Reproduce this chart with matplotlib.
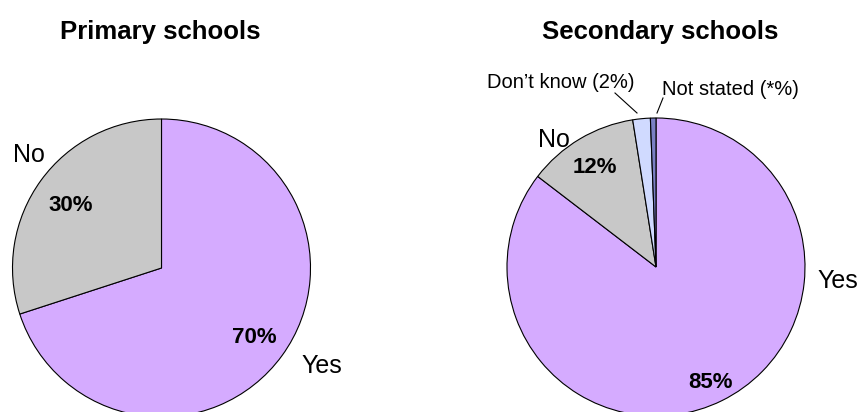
import matplotlib
matplotlib.use("Agg")
import matplotlib.pyplot as plt

plt.rcParams["font.family"] = ["Liberation Sans", "DejaVu Sans"]

# =========================================================
# DATA
# =========================================================
primary_labels = ["Yes", "No"]
primary_values = [70, 30]

secondary_labels = ["Yes", "No", "Don\u2019t know", "Not stated"]
secondary_values = [85.4, 12.1, 1.9, 0.6]
secondary_text = ["85%", "12%", "2%", "*%"]

COLORS = ["#d5abff", "#c8c8c8", "#d0daff", "#7a7fc4"]

W, H = 863, 412


def py(y):
    # pixel row -> data y
    return H - y


fig = plt.figure(figsize=(W / 100, H / 100), dpi=100)
ax = fig.add_axes([0, 0, 1, 1])

wedge_style = {"edgecolor": "black", "linewidth": 0.8}
big = {"fontsize": 18}
pct = {"fontsize": 16, "fontweight": "bold"}
small = {"fontsize": 14.5}

# =========================================================
# PRIMARY
# =========================================================
ax.pie(primary_values, colors=COLORS[:2], startangle=90, counterclock=False,
       center=(161.5, py(268)), radius=149, wedgeprops=wedge_style, frame=True)

ax.text(160, py(38.5), "Primary schools", ha="center", va="baseline",
        fontsize=18.5, fontweight="bold")
ax.text(29, py(162), primary_labels[1], ha="center", va="baseline", **big)
ax.text(71, py(211), f"{primary_values[1]}%", ha="center", va="baseline", **pct)
ax.text(254, py(343), f"{primary_values[0]}%", ha="center", va="baseline", **pct)
ax.text(321.5, py(373), primary_labels[0], ha="center", va="baseline", **big)

# =========================================================
# SECONDARY
# =========================================================
ax.pie(secondary_values, colors=COLORS, startangle=90, counterclock=False,
       center=(656, py(267)), radius=149, wedgeprops=wedge_style, frame=True)

ax.text(660, py(38.5), "Secondary schools", ha="center", va="baseline",
        fontsize=18.5, fontweight="bold")
ax.text(553.5, py(147), secondary_labels[1], ha="center", va="baseline", **big)
ax.text(595, py(173), secondary_text[1], ha="center", va="baseline", **pct)
ax.text(710.5, py(388), secondary_text[0], ha="center", va="baseline", **pct)
ax.text(837.5, py(288), secondary_labels[0], ha="center", va="baseline", **big)

ax.text(561, py(88), f"{secondary_labels[2]} ({secondary_text[2]})",
        ha="center", va="baseline", **small)
ax.text(730, py(95), f"{secondary_labels[3]} ({secondary_text[3]})",
        ha="center", va="baseline", **small)
ax.plot([615, 637], [py(93), py(113)], color="black", linewidth=0.8)
ax.plot([663, 657], [py(98), py(113)], color="black", linewidth=0.8)

ax.set_xlim(0, W)
ax.set_ylim(0, H)
ax.set_aspect("equal")
ax.axis("off")

fig.savefig("out.png", dpi=100)
